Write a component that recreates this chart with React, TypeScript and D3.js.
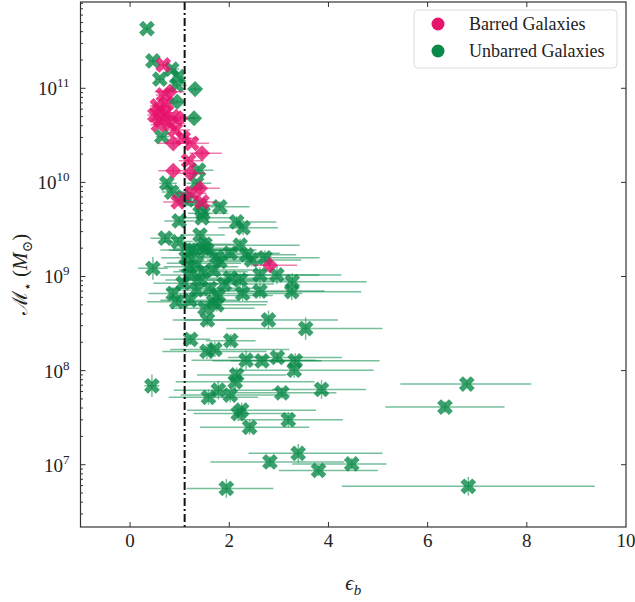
import * as d3 from "d3";

// [eps_b, M*, eps err minus, eps err plus, log M err (dex)]
type Pt = [number, number, number, number, number];

const unbarredX: Pt[] = [
  [0.34, 4.3e11, 0.05, 0.05, 0.02],
  [0.46, 1.95e11, 0.08, 0.1, 0.03],
  [0.84, 1.6e11, 0.1, 0.15, 0.03],
  [0.6, 1.25e11, 0.1, 0.1, 0.03],
  [0.97, 1.33e11, 0.12, 0.15, 0.03],
  [0.94, 1.08e11, 0.15, 0.2, 0.03],
  [0.64, 3.06e10, 0.12, 0.15, 0.03],
  [0.74, 9.8e9, 0.15, 0.2, 0.04],
  [0.84, 7.9e9, 0.2, 0.25, 0.04],
  [1.07, 7.0e9, 0.2, 0.3, 0.04],
  [1.34, 9.8e9, 0.2, 0.3, 0.04],
  [1.38, 1.35e10, 0.15, 0.3, 0.04],
  [1.15, 6.5e9, 0.25, 0.3, 0.05],
  [1.47, 4.7e9, 0.3, 0.5, 0.05],
  [1.41, 5.7e9, 0.3, 0.4, 0.05],
  [0.99, 3.9e9, 0.3, 0.3, 0.05],
  [1.45, 4.2e9, 0.4, 0.6, 0.05],
  [1.81, 5.5e9, 0.5, 0.6, 0.06],
  [2.15, 3.8e9, 0.6, 0.8, 0.06],
  [2.28, 3.3e9, 0.5, 0.7, 0.08],
  [0.71, 2.55e9, 0.3, 0.4, 0.05],
  [0.97, 2.35e9, 0.3, 0.3, 0.05],
  [1.41, 2.76e9, 0.4, 0.5, 0.05],
  [1.51, 2.2e9, 0.5, 0.6, 0.06],
  [1.48, 2.0e9, 0.6, 0.7, 0.06],
  [1.28, 1.9e9, 0.5, 0.8, 0.06],
  [1.21, 1.91e9, 0.6, 0.9, 0.06],
  [1.55, 1.91e9, 0.7, 1.0, 0.06],
  [1.75, 1.62e9, 0.7, 1.1, 0.06],
  [2.02, 1.77e9, 0.8, 1.0, 0.06],
  [2.22, 2.15e9, 0.9, 1.2, 0.07],
  [2.35, 1.7e9, 0.8, 1.0, 0.07],
  [2.45, 1.5e9, 0.9, 1.0, 0.07],
  [2.72, 1.58e9, 1.0, 1.1, 0.08],
  [1.13, 1.58e9, 0.5, 0.7, 0.06],
  [1.34, 1.38e9, 0.6, 0.9, 0.06],
  [1.81, 1.44e9, 0.8, 1.0, 0.06],
  [1.18, 1.27e9, 0.5, 1.0, 0.06],
  [1.68, 1.17e9, 0.7, 1.1, 0.06],
  [1.47, 1.12e9, 0.6, 0.9, 0.06],
  [0.46, 1.22e9, 0.3, 0.3, 0.12],
  [1.21, 1.04e9, 0.6, 1.2, 0.06],
  [2.62, 1.04e9, 1.0, 1.2, 0.08],
  [2.96, 1.04e9, 1.0, 1.3, 0.1],
  [2.02, 9.6e8, 0.9, 1.0, 0.07],
  [2.22, 9.2e8, 1.0, 1.0, 0.07],
  [1.41, 9.2e8, 0.7, 1.2, 0.06],
  [1.07, 8.5e8, 0.6, 0.9, 0.06],
  [1.9, 8.3e8, 0.8, 1.0, 0.07],
  [3.27, 8.8e8, 1.2, 1.5, 0.09],
  [1.61, 7.5e8, 0.8, 1.0, 0.07],
  [1.34, 7.2e8, 0.6, 1.0, 0.07],
  [3.26, 6.9e8, 1.1, 1.4, 0.09],
  [2.62, 7.0e8, 1.0, 1.3, 0.08],
  [2.27, 6.6e8, 1.0, 1.2, 0.08],
  [0.87, 6.6e8, 0.5, 0.8, 0.06],
  [1.78, 6.3e8, 0.8, 1.1, 0.07],
  [0.94, 5.4e8, 0.6, 0.9, 0.06],
  [1.68, 5.4e8, 0.7, 1.1, 0.07],
  [1.21, 5.6e8, 0.6, 1.0, 0.06],
  [1.75, 5.0e8, 0.8, 1.0, 0.07],
  [1.51, 4.6e8, 0.7, 1.0, 0.07],
  [1.56, 3.45e8, 0.7, 1.1, 0.07],
  [2.79, 3.45e8, 1.7, 1.4, 0.1],
  [3.54, 2.8e8, 1.6, 1.55, 0.12],
  [1.22, 2.15e8, 0.55, 0.4, 0.06],
  [2.03, 2.08e8, 0.5, 0.5, 0.07],
  [1.55, 1.6e8, 0.9, 1.2, 0.08],
  [1.71, 1.68e8, 0.9, 1.5, 0.08],
  [2.34, 1.29e8, 1.1, 1.4, 0.1],
  [2.66, 1.27e8, 1.0, 1.2, 0.06],
  [2.97, 1.38e8, 1.0, 1.3, 0.06],
  [3.33, 1.27e8, 1.3, 1.7, 0.08],
  [3.31, 1.01e8, 1.3, 1.6, 0.08],
  [2.15, 9.0e7, 0.8, 1.0, 0.08],
  [2.12, 7.6e7, 1.2, 1.6, 0.08],
  [1.78, 6.2e7, 0.9, 1.2, 0.1],
  [1.58, 5.2e7, 0.8, 1.0, 0.08],
  [2.02, 5.5e7, 1.0, 1.2, 0.08],
  [3.06, 5.8e7, 1.0, 1.1, 0.06],
  [3.86, 6.3e7, 1.0, 0.9, 0.1],
  [2.18, 3.5e7, 0.9, 1.1, 0.08],
  [2.25, 3.8e7, 1.1, 1.5, 0.08],
  [3.19, 3.0e7, 1.0, 1.1, 0.08],
  [2.41, 2.5e7, 1.0, 1.2, 0.08],
  [3.39, 1.32e7, 1.0, 1.7, 0.1],
  [2.82, 1.07e7, 1.2, 1.5, 0.06],
  [3.8, 8.7e6, 0.8, 1.2, 0.06],
  [4.47, 1.02e7, 1.2, 0.7, 0.06],
  [1.94, 5.6e6, 0.8, 0.95, 0.1],
  [6.79, 7.2e7, 1.34, 1.3, 0.04],
  [6.35, 4.1e7, 1.2, 1.2, 0.06],
  [6.82, 5.9e6, 2.55, 2.55, 0.1],
  [0.44, 6.9e7, 0.15, 0.15, 0.12],
];

const barredX: Pt[] = [
  [0.67, 1.77e11, 0.1, 0.1, 0.03],
  [0.67, 8.5e10, 0.15, 0.15, 0.03],
  [0.74, 6.9e10, 0.15, 0.2, 0.03],
  [0.55, 6.5e10, 0.15, 0.2, 0.03],
  [0.6, 5.9e10, 0.2, 0.2, 0.03],
  [0.7, 5.5e10, 0.2, 0.2, 0.03],
  [0.5, 5.2e10, 0.15, 0.2, 0.03],
  [0.85, 5.0e10, 0.2, 0.25, 0.03],
  [0.62, 4.6e10, 0.2, 0.2, 0.03],
  [0.81, 4.2e10, 0.2, 0.3, 0.03],
  [0.57, 4.1e10, 0.15, 0.2, 0.03],
  [0.91, 3.6e10, 0.2, 0.3, 0.03],
  [1.07, 2.95e10, 0.2, 0.3, 0.03],
  [1.24, 2.6e10, 0.2, 0.35, 0.03],
  [1.18, 1.7e10, 0.2, 0.3, 0.04],
  [1.24, 7.65e9, 0.3, 0.3, 0.04],
  [0.97, 6.2e9, 0.3, 0.3, 0.04],
  [1.45, 6.2e9, 0.3, 0.3, 0.04],
];

const barredD: Pt[] = [
  [0.8, 9.2e10, 0.3, 0.3, 0.03],
  [1.01, 4.8e10, 0.4, 0.3, 0.03],
  [0.87, 2.6e10, 0.3, 0.3, 0.03],
  [1.45, 2.04e10, 0.25, 0.4, 0.03],
  [0.87, 1.33e10, 0.3, 0.3, 0.04],
  [1.21, 1.25e10, 0.3, 0.3, 0.04],
  [1.41, 8.65e9, 0.3, 0.4, 0.04],
  [2.82, 1.32e9, 0.35, 0.55, 0.04],
];

const unbarredD: Pt[] = [
  [1.31, 9.8e10, 0.1, 0.1, 0.02],
  [0.95, 7.2e10, 0.1, 0.1, 0.02],
  [1.29, 4.8e10, 0.1, 0.1, 0.02],
];

const xTicks = [0, 2, 4, 6, 8, 10];
const yTicks = [7, 8, 9, 10, 11];
const epsCut = 1.1;
const legendItems = ["Barred Galaxies", "Unbarred Galaxies"];

const PINK = "#e6136b";
const GREEN = "#0a8a48";
const SERIF = "'Liberation Serif', 'DejaVu Serif', serif";

export default function App() {
  const width = 635;
  const height = 602;
  const margin = { top: 2, right: 9, bottom: 75, left: 80.5 };
  const x = d3.scaleLinear().domain([-1, 10]).range([margin.left, width - margin.right]);
  const y = d3
    .scaleLog()
    .domain([Math.pow(10, 6.338), Math.pow(10, 11.917)])
    .range([height - margin.bottom, margin.top]);
  const [x0, x1] = x.range();
  const [y0, y1] = y.range();

  const xShape = d3.symbol(d3.symbolCross, 155)();
  const dShape = d3.symbol(d3.symbolSquare, 130)();

  const minorTicks: number[] = [];
  for (let e = 6; e <= 11; e++) {
    for (let k = 2; k <= 9; k++) {
      const v = k * Math.pow(10, e);
      if (v > y.domain()[0] && v < y.domain()[1]) minorTicks.push(v);
    }
  }

  const series = (data: Pt[], color: string, shape: string | null, key: string) => (
    <g key={key}>
      <g stroke={color} strokeOpacity={0.55} strokeWidth={1.5}>
        {data.map((d, i) => (
          <g key={i}>
            <line x1={x(d[0] - d[2])} x2={x(d[0] + d[3])} y1={y(d[1])} y2={y(d[1])} />
            <line
              x1={x(d[0])}
              x2={x(d[0])}
              y1={y(d[1] * Math.pow(10, -d[4]))}
              y2={y(d[1] * Math.pow(10, d[4]))}
            />
          </g>
        ))}
      </g>
      <g fill={color} fillOpacity={0.8}>
        {data.map((d, i) => (
          <path
            key={i}
            d={shape ?? ""}
            transform={`translate(${x(d[0])},${y(d[1])}) rotate(45)`}
          />
        ))}
      </g>
    </g>
  );

  return (
    <svg
      width={width}
      height={height}
      style={{ position: "absolute", left: 0, top: 0, background: "#fff" }}
      fontFamily={SERIF}
    >
      <defs>
        <clipPath id="plot">
          <rect x={x0} y={y1} width={x1 - x0} height={y0 - y1} />
        </clipPath>
      </defs>

      <g clipPath="url(#plot)">
        {series(unbarredX, GREEN, xShape, "ux")}
        {series(barredX, PINK, xShape, "bx")}
        {series(barredD, PINK, dShape, "bd")}
        {series(unbarredD, GREEN, dShape, "ud")}
        <line
          x1={x(epsCut)}
          x2={x(epsCut)}
          y1={y1}
          y2={y0}
          stroke="#111"
          strokeWidth={2}
          strokeDasharray="8,3,2,3"
        />
      </g>

      {/* frame and ticks */}
      <rect x={x0} y={y1} width={x1 - x0} height={y0 - y1} fill="none" stroke="#333" strokeWidth={1.2} />
      <g stroke="#333" strokeWidth={1}>
        {xTicks.slice(0, -1).map((t) => (
          <g key={t}>
            <line x1={x(t)} x2={x(t)} y1={y0} y2={y0 - 5} />
            <line x1={x(t)} x2={x(t)} y1={y1} y2={y1 + 5} />
          </g>
        ))}
        {yTicks.map((t) => (
          <g key={t}>
            <line x1={x0} x2={x0 + 5} y1={y(Math.pow(10, t))} y2={y(Math.pow(10, t))} />
            <line x1={x1} x2={x1 - 5} y1={y(Math.pow(10, t))} y2={y(Math.pow(10, t))} />
          </g>
        ))}
        {minorTicks.map((v) => (
          <line key={v} x1={x0} x2={x0 + 2.5} y1={y(v)} y2={y(v)} />
        ))}
      </g>

      {xTicks.map((t) => (
        <text key={t} x={x(t)} y={y0 + 20} textAnchor="middle" fontSize={19} fill="#222">
          {t}
        </text>
      ))}
      {yTicks.map((t) => (
        <text key={t} x={x0 - 11} y={y(Math.pow(10, t)) + 7} textAnchor="end" fontSize={19} fill="#222">
          <tspan>10</tspan>
          <tspan dy={-8} fontSize={13}>
            {t}
          </tspan>
        </text>
      ))}

      {/* axis labels */}
      <text x={(x0 + x1) / 2} y={590} textAnchor="middle" fontSize={21} fill="#222" fontStyle="italic">
        <tspan>ϵ</tspan>
        <tspan dy={5} fontSize={15}>
          b
        </tspan>
      </text>
      <text
        transform={`translate(27,${(y0 + y1) / 2 + 10}) rotate(-90)`}
        textAnchor="middle"
        fontSize={21}
        fill="#222"
      >
        <tspan>ℳ</tspan>
        <tspan dy={5} fontSize={14}>
          ⋆
        </tspan>
        <tspan dy={-5}> (</tspan>
        <tspan fontStyle="italic">M</tspan>
        <tspan dy={5} fontSize={14}>
          ⊙
        </tspan>
        <tspan dy={-5}>)</tspan>
      </text>

      {/* legend */}
      <rect x={414} y={10} width={203} height={58} rx={4} fill="#fff" fillOpacity={0.85} stroke="#ddd" />
      {legendItems.map((name, i) => (
        <g key={name}>
          <circle cx={438} cy={24 + i * 27} r={6.5} fill={i === 0 ? PINK : GREEN} />
          <text x={469} y={30 + i * 27} fontSize={18} fill="#222">
            {name}
          </text>
        </g>
      ))}
    </svg>
  );
}
